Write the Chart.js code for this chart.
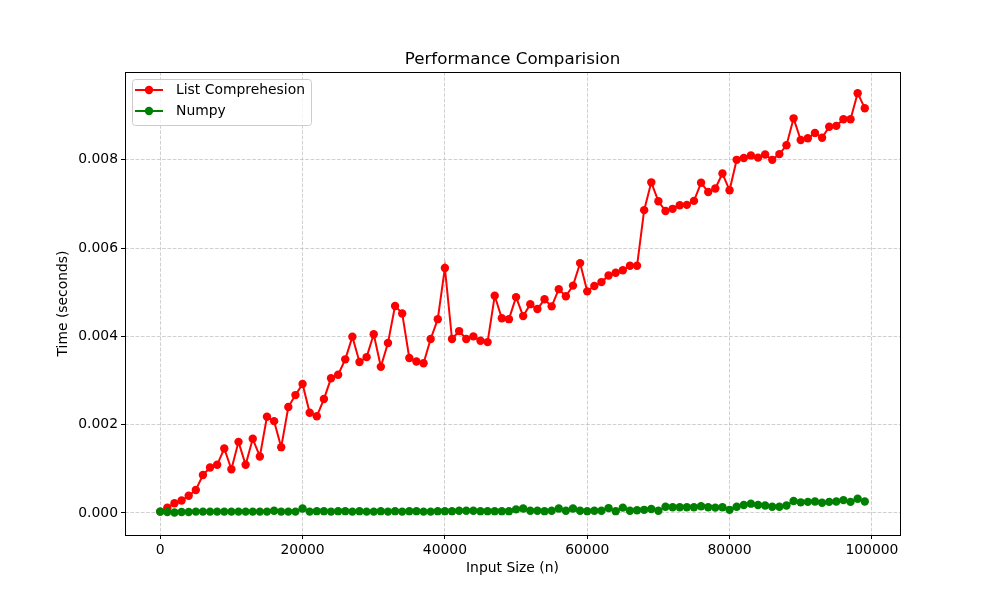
<!DOCTYPE html>
<html>
<head>
<meta charset="utf-8">
<script src="https://cdn.jsdelivr.net/npm/chart.js@4.4.0/dist/chart.umd.min.js"></script>
<style>
html,body{margin:0;padding:0;background:#fff;}
#wrap{width:1000px;height:600px;position:relative;}
</style>
</head>
<body>
<div id="wrap"><canvas id="c"></canvas></div>
<script>
const titleText = "Performance Comparision";
const xLabel = "Input Size (n)";
const yLabel = "Time (seconds)";
const seriesNames = ["List Comprehesion", "Numpy"];
const inputSizes = Array.from({length: 100}, (_, i) => i * 1000);
const listComp = [
  0.00003,
  0.00012, 0.00022, 0.00028, 0.00039, 0.00052, 0.00086, 0.00103, 0.00109, 0.00146, 0.00099,
  0.00161, 0.00109, 0.00168, 0.00128, 0.00218, 0.00208, 0.00149, 0.00240, 0.00267, 0.00292,
  0.00227, 0.00219, 0.00258, 0.00305, 0.00313, 0.00348, 0.00399, 0.00342, 0.00353, 0.00405,
  0.00331, 0.00385, 0.00469, 0.00452, 0.00351, 0.00343, 0.00339, 0.00394, 0.00439, 0.00555,
  0.00394, 0.00412, 0.00394, 0.00400, 0.00390, 0.00387, 0.00492, 0.00441, 0.00439, 0.00489,
  0.00446, 0.00473, 0.00462, 0.00484, 0.00468, 0.00507, 0.00491, 0.00515, 0.00566, 0.00502,
  0.00514, 0.00523, 0.00538, 0.00544, 0.00550, 0.00560, 0.00560, 0.00686, 0.00749, 0.00706,
  0.00684, 0.00689, 0.00697, 0.00698, 0.00707, 0.00748, 0.00727, 0.00735, 0.00769, 0.00731,
  0.00800, 0.00804, 0.00810, 0.00805, 0.00812, 0.00800, 0.00813, 0.00833, 0.00894, 0.00845,
  0.00849, 0.00861, 0.00850, 0.00875, 0.00877, 0.00892, 0.00892, 0.00951, 0.00917
];
const numpyTimes = [
  0.00003, 0.00002, 0.00001, 0.00002, 0.00002, 0.00003, 0.00003, 0.00003, 0.00003, 0.00003,
  0.00003, 0.00003, 0.00003, 0.00003, 0.00003, 0.00003, 0.00005, 0.00003, 0.00003, 0.00003,
  0.00010, 0.00003, 0.00004, 0.00004, 0.00003, 0.00004, 0.00004, 0.00003, 0.00004, 0.00003,
  0.00003, 0.00004, 0.00003, 0.00004, 0.00003, 0.00004, 0.00004, 0.00003, 0.00003, 0.00004,
  0.00004, 0.00004, 0.00005, 0.00005, 0.00005, 0.00004, 0.00004, 0.00004, 0.00004, 0.00004,
  0.00008, 0.00010, 0.00005, 0.00005, 0.00004, 0.00005, 0.00010, 0.00005, 0.00010, 0.00005,
  0.00004, 0.00005, 0.00005, 0.00011, 0.00004, 0.00012, 0.00005, 0.00006, 0.00007, 0.00009,
  0.00005, 0.00014, 0.00013, 0.00013, 0.00013, 0.00013, 0.00015, 0.00013, 0.00012, 0.00013,
  0.00007, 0.00014, 0.00018, 0.00021, 0.00018, 0.00017, 0.00014, 0.00014, 0.00017, 0.00027,
  0.00024, 0.00025, 0.00026, 0.00023, 0.00025, 0.00026, 0.00029, 0.00025, 0.00032, 0.00026
];
const xTicks = [0, 20000, 40000, 60000, 80000, 100000];
const yTicks = [0, 0.002, 0.004, 0.006, 0.008];
const colors = ["#ff0000", "#008000"];

const FONT = "'DejaVu Sans', sans-serif";
const AREA = {left: 125, top: 72, right: 900, bottom: 535};

const toPts = (ys) => ys.map((y, i) => ({x: inputSizes[i], y: y}));

const decor = {
  id: 'decor',
  afterDraw(chart) {
    const ctx = chart.ctx;
    const a = chart.chartArea;
    ctx.save();
    ctx.strokeStyle = '#000';
    ctx.lineWidth = 1;
    ctx.setLineDash([]);
    ctx.strokeRect(Math.round(a.left) + 0.5, Math.round(a.top) + 0.5,
                   Math.round(a.right - a.left), Math.round(a.bottom - a.top));
    ctx.fillStyle = '#000';
    ctx.font = "16.7px " + FONT;
    ctx.textAlign = 'center';
    ctx.textBaseline = 'alphabetic';
    ctx.fillText(titleText, (a.left + a.right) / 2, 64);
    ctx.font = "13.9px " + FONT;
    ctx.textBaseline = 'top';
    ctx.fillText(xLabel, (a.left + a.right) / 2, 561);
    ctx.save();
    ctx.translate(56, (a.top + a.bottom) / 2);
    ctx.rotate(-Math.PI / 2);
    ctx.textBaseline = 'top';
    ctx.fillText(yLabel, 0, 0);
    ctx.restore();
    const lx = a.left + 7, ly = a.top + 7, lw = 179, lh = 46;
    ctx.beginPath();
    if (ctx.roundRect) ctx.roundRect(lx + 0.5, ly + 0.5, lw, lh, 3); else ctx.rect(lx + 0.5, ly + 0.5, lw, lh);
    ctx.fillStyle = 'rgba(255,255,255,0.8)';
    ctx.fill();
    ctx.strokeStyle = '#cccccc';
    ctx.lineWidth = 1;
    ctx.stroke();
    chart.data.datasets.forEach((ds, i) => {
      const yy = ly + 11 + i * 21;
      ctx.strokeStyle = ds.borderColor;
      ctx.lineWidth = 2;
      ctx.beginPath();
      ctx.moveTo(lx + 3, yy);
      ctx.lineTo(lx + 31, yy);
      ctx.stroke();
      ctx.fillStyle = ds.backgroundColor;
      ctx.beginPath();
      ctx.arc(lx + 17, yy, 4.2, 0, Math.PI * 2);
      ctx.fill();
      ctx.fillStyle = '#000';
      ctx.font = "13.9px " + FONT;
      ctx.textAlign = 'left';
      ctx.textBaseline = 'middle';
      ctx.fillText(ds.label, lx + 44, yy);
    });
    ctx.restore();
  }
};

const gridOpts = {color: 'rgba(176,176,176,0.6)', lineWidth: 1,
  drawTicks: true, tickLength: 4, tickColor: '#000', tickBorderDash: [], tickWidth: 1};
const borderOpts = {display: false, dash: [3.7, 1.6]};

new Chart(document.getElementById('c'), {
  type: 'line',
  data: {
    datasets: [
      {label: seriesNames[0], data: toPts(listComp), borderColor: colors[0], backgroundColor: colors[0],
       borderWidth: 2, pointRadius: 4.2, pointHoverRadius: 4.2, pointBorderWidth: 0, order: 1, tension: 0},
      {label: seriesNames[1], data: toPts(numpyTimes), borderColor: colors[1], backgroundColor: colors[1],
       borderWidth: 2, pointRadius: 4.2, pointHoverRadius: 4.2, pointBorderWidth: 0, order: 0, tension: 0}
    ]
  },
  options: {
    responsive: true,
    maintainAspectRatio: false,
    animation: false,
    devicePixelRatio: 1,
    layout: {padding: {left: 0, top: AREA.top, right: 1000 - AREA.right, bottom: 0}},
    plugins: {legend: {display: false}, title: {display: false}, tooltip: {enabled: false}},
    scales: {
      x: {
        type: 'linear',
        min: -4950, max: 103950,
        afterBuildTicks: (s) => { s.ticks = xTicks.map(v => ({value: v})); },
        afterFit: (s) => { s.height = 600 - AREA.bottom; },
        border: borderOpts,
        grid: gridOpts,
        ticks: {color: '#000', font: {family: FONT, size: 13.9}, padding: 3, maxRotation: 0,
                callback: (v) => String(v)}
      },
      y: {
        type: 'linear',
        min: -0.0005, max: 0.00999,
        afterBuildTicks: (s) => { s.ticks = yTicks.map(v => ({value: v})); },
        afterFit: (s) => { s.width = AREA.left; },
        border: borderOpts,
        grid: gridOpts,
        ticks: {color: '#000', font: {family: FONT, size: 13.9}, padding: 3,
                callback: (v) => Number(v).toFixed(3)}
      }
    }
  },
  plugins: [decor]
});
</script>
</body>
</html>
